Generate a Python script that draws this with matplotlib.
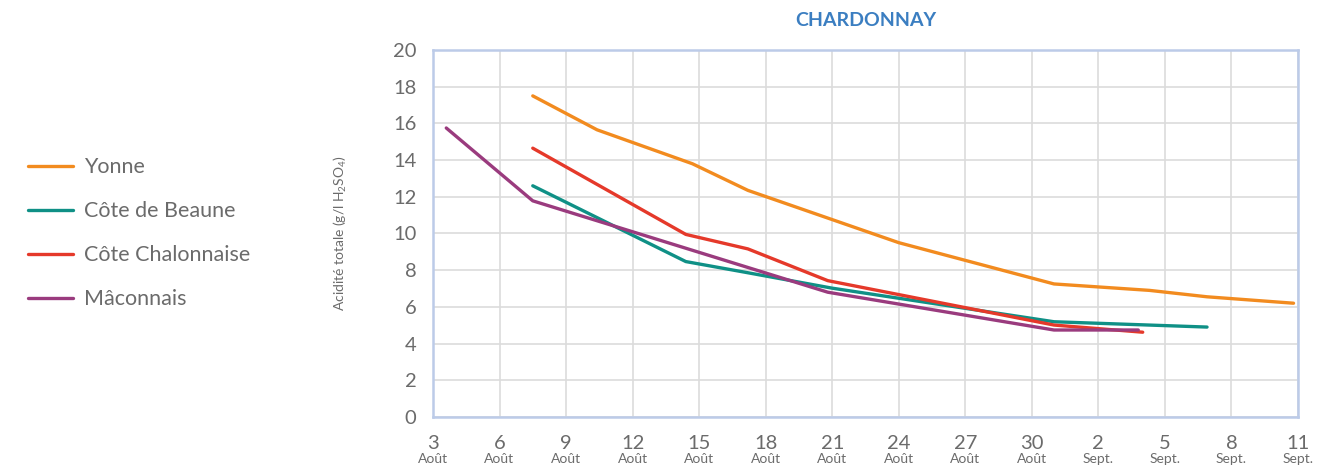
import matplotlib
matplotlib.use("Agg")
import matplotlib.pyplot as plt
import matplotlib.transforms as mtransforms

plt.rcParams['font.family'] = ['Lato', 'DejaVu Sans']
plt.rcParams['mathtext.default'] = 'regular'

# days counted from 1 August (32 = 1 Sept.)
yonne_x = [7.5, 10.4, 14.7, 17.2, 24.0, 31.0, 35.3, 37.9, 41.8]
yonne_y = [17.5, 15.65, 13.8, 12.35, 9.5, 7.25, 6.9, 6.55, 6.2]

beaune_x = [7.5, 14.4, 17.2, 21.0, 31.0, 37.9]
beaune_y = [12.6, 8.47, 7.86, 7.02, 5.19, 4.9]

chalon_x = [7.5, 14.4, 17.2, 20.8, 31.0, 35.0]
chalon_y = [14.65, 9.95, 9.16, 7.43, 5.01, 4.62]

macon_x = [3.6, 7.5, 20.8, 31.0, 34.8]
macon_y = [15.75, 11.78, 6.8, 4.74, 4.74]

tick_days = [3, 6, 9, 12, 15, 18, 21, 24, 27, 30, 33, 36, 39, 42]
tick_nums = ['3', '6', '9', '12', '15', '18', '21', '24', '27', '30', '2', '5', '8', '11']
tick_months = ['Août'] * 10 + ['Sept.'] * 4

series = [
    ('Yonne', yonne_x, yonne_y, '#f28b1f'),
    ('Côte de Beaune', beaune_x, beaune_y, '#0f9086'),
    ('Côte Chalonnaise', chalon_x, chalon_y, '#e5392a'),
    ('Mâconnais', macon_x, macon_y, '#9a3b7e'),
]

fig = plt.figure(figsize=(13.18, 4.74), dpi=100)
ax = fig.add_axes([0.3285, 0.1203, 0.6563, 0.7742])

for name, xs, ys, col in series:
    ax.plot(xs, ys, color=col, lw=2.4, label=name, solid_capstyle='round')

ax.set_xlim(3, 42)
ax.set_ylim(0, 20)
ax.set_yticks(range(0, 21, 2))
ax.set_xticks(tick_days)
ax.set_xticklabels(tick_nums)
ax.grid(True, color='#dcdcdc', lw=1.2)
ax.set_axisbelow(True)
for s in ax.spines.values():
    s.set_color('#bccbe8')
    s.set_linewidth(1.8)
ax.tick_params(length=0, labelsize=14.5, labelcolor='#6b6b6b')
ax.tick_params(axis='y', pad=12)
ax.tick_params(axis='x', pad=13)

trans = mtransforms.blended_transform_factory(ax.transData, ax.transAxes)
for d, m in zip(tick_days, tick_months):
    ax.text(d, -0.098, m, transform=trans, ha='center', va='top',
            fontsize=10, color='#6b6b6b')

ax.set_ylabel('Acidité totale (g/l H$_2$SO$_4$)', fontsize=10, color='#6b6b6b')
ax.yaxis.set_label_coords(-0.097, 0.5)

ax.set_title('CHARDONNAY', fontsize=14, fontweight='bold', color='#3b7ec1', pad=17)

fig.legend(loc='center left', bbox_to_anchor=(0.021, 0.508), frameon=False,
           borderpad=0, borderaxespad=0,
           fontsize=15.5, labelcolor='#6b6b6b', handlelength=2.1,
           handletextpad=0.5, labelspacing=1.12)

fig.savefig('out.png', dpi=100)
